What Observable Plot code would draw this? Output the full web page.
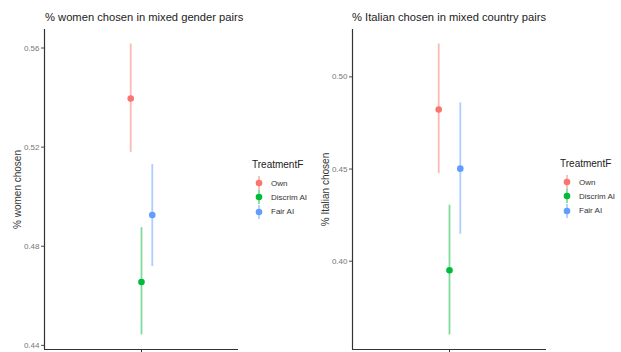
<!DOCTYPE html>
<html>
<head>
<meta charset="utf-8">
<script src="https://cdn.jsdelivr.net/npm/d3@7"></script>
<script src="https://cdn.jsdelivr.net/npm/@observablehq/plot@0.6"></script>
<style>
  body { margin: 0; background: #fff; font-family: "Liberation Sans", Arial, sans-serif; }
  #wrap { position: relative; width: 621px; height: 352px; overflow: hidden; }
  .panel { position: absolute; top: 0; }
  .title { position: absolute; font-size: 11.2px; color: #222; white-space: nowrap; line-height: 1; }
  .legend { position: absolute; font-size: 8px; color: #333; }
  .legend .lt { font-size: 10px; color: #222; margin-bottom: 6px; white-space: nowrap; }
  .legend .item { display: flex; align-items: center; height: 14.3px; white-space: nowrap; }
  .legend svg { margin-right: 5px; }
</style>
</head>
<body>
<div id="wrap"></div>
<script>
// ---- data ----
const treatments = ["Own", "Discrim AI", "Fair AI"];
const colors = ["#F8766D", "#00BA38", "#619CFF"];

const womenMean = [0.5396, 0.4656, 0.4926];
const womenLow  = [0.5179, 0.4442, 0.4718];
const womenHigh = [0.5616, 0.4875, 0.5130];
const womenTicks = [0.44, 0.48, 0.52, 0.56];

const italianMean = [0.4823, 0.3951, 0.4502];
const italianLow  = [0.4475, 0.3600, 0.4146];
const italianHigh = [0.5178, 0.4304, 0.4859];
const italianTicks = [0.40, 0.45, 0.50];

const dodgeWidth = 0.2;

function rows(mean, low, high) {
  return treatments.map((t, i) => ({
    t, mean: mean[i], low: low[i], high: high[i],
    x: 1 + (i - (treatments.length - 1) / 2) * dodgeWidth / treatments.length
  }));
}

function panel(data, ticks, ylabel) {
  const lo = d3.min(data, d => d.low), hi = d3.max(data, d => d.high);
  const pad = (hi - lo) * 0.05;
  const ydom = [lo - pad, hi + pad];
  const xdom = [0.4, 1.6];
  return Plot.plot({
    width: 240, height: 352,
    marginLeft: 44, marginRight: 2, marginTop: 29, marginBottom: 3,
    style: { fontFamily: "Liberation Sans, Arial, sans-serif", fontSize: "8px", background: "transparent", overflow: "visible" },
    x: { domain: xdom, axis: null },
    y: { domain: ydom, axis: null },
    color: { domain: treatments, range: colors },
    marks: [
      Plot.axisY({ ticks, tickFormat: d3.format(".2f"), tickSize: 3, tickPadding: 2, color: "#4d4d4d", fill: "#777", fontSize: 8, label: null }),
      Plot.axisY({ ticks: [], label: ylabel, labelAnchor: "center", labelArrow: "none", labelOffset: 31, fontSize: 10, fill: "#333" }),
      Plot.axisX({ ticks: [1], tickFormat: () => "", tickSize: 3, stroke: "#333", label: null }),
      Plot.ruleX([xdom[0]], { stroke: "#333", strokeWidth: 1.2 }),
      Plot.ruleY([ydom[0]], { stroke: "#333", strokeWidth: 1.2 }),
      Plot.ruleX(data, { x: "x", y1: "low", y2: "high", stroke: "t", strokeWidth: 1.8, strokeOpacity: 0.5 }),
      Plot.dot(data, { x: "x", y: "mean", fill: "t", r: 3.3, stroke: "none" })
    ]
  });
}

function legend() {
  const div = document.createElement("div");
  div.className = "legend";
  const t = document.createElement("div");
  t.className = "lt"; t.textContent = "TreatmentF";
  div.appendChild(t);
  treatments.forEach((name, i) => {
    const it = document.createElement("div");
    it.className = "item";
    it.innerHTML = `<svg width="14" height="14"><line x1="7" x2="7" y1="0" y2="14" stroke="${colors[i]}" stroke-opacity="0.5" stroke-width="1.8"/><circle cx="7" cy="7" r="3.3" fill="${colors[i]}"/></svg>`;
    const s = document.createElement("span");
    s.textContent = name;
    it.appendChild(s);
    div.appendChild(it);
  });
  return div;
}

const wrap = document.getElementById("wrap");
function place(el, left, top) { el.style.position = "absolute"; el.style.left = left + "px"; el.style.top = top + "px"; wrap.appendChild(el); }

const p1 = panel(rows(womenMean, womenLow, womenHigh), womenTicks, "% women chosen");
p1.classList.add("panel"); place(p1, 0, 0);
const p2 = panel(rows(italianMean, italianLow, italianHigh), italianTicks, "% Italian chosen");
p2.classList.add("panel"); place(p2, 308, 0);

const t1 = document.createElement("div"); t1.className = "title"; t1.textContent = "% women chosen in mixed gender pairs"; place(t1, 45, 12);
const t2 = document.createElement("div"); t2.className = "title"; t2.textContent = "% Italian chosen in mixed country pairs"; place(t2, 352, 12);

place(legend(), 252, 159);
place(legend(), 560, 158);
</script>
</body>
</html>
